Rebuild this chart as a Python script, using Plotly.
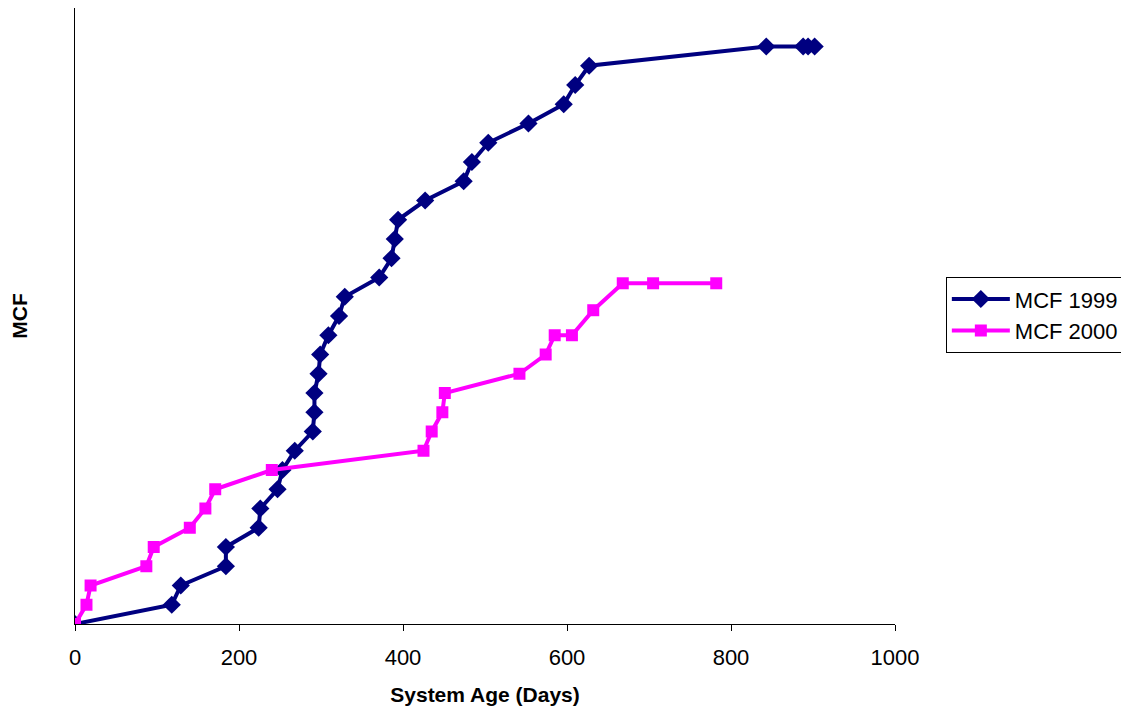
import plotly.graph_objects as go

# System age (days) and MCF values
age_1999 = [0, 118, 129, 184, 184, 224, 226, 247, 253, 268, 290, 292, 292, 297, 299,
            309, 322, 329, 371, 386, 390, 394, 427, 474, 484, 504, 553, 596, 610, 627,
            843, 888, 894, 902]
mcf_1999 = [0, 1, 2, 3, 4, 5, 6, 7, 8, 9, 10, 11, 12, 13, 14,
            15, 16, 17, 18, 19, 20, 21, 22, 23, 24, 25, 26, 27, 28, 29,
            30, 30, 30, 30]

age_2000 = [0, 14, 19, 87, 96, 140, 159, 171, 240, 425, 435, 448, 451, 542, 574,
            585, 606, 632, 668, 705, 782]
mcf_2000 = [0, 1, 2, 3, 4, 5, 6, 7, 8, 9, 10, 11, 12, 13, 14,
            15, 15, 16.3, 17.7, 17.7, 17.7]

x_ticks = [0, 200, 400, 600, 800, 1000]

FONT = "Arial, Liberation Sans, sans-serif"

fig = go.Figure()
fig.add_trace(go.Scatter(
    x=age_1999, y=mcf_1999, mode="lines+markers", name="MCF 1999",
    line=dict(color="#000080", width=4),
    marker=dict(symbol="diamond", size=14, color="#000080"),
))
fig.add_trace(go.Scatter(
    x=age_2000, y=mcf_2000, mode="lines+markers", name="MCF 2000",
    line=dict(color="#FF00FF", width=4),
    marker=dict(symbol="square", size=12, color="#FF00FF"),
))

fig.update_layout(
    width=1129, height=712,
    margin=dict(l=67, r=242, t=0, b=96),
    paper_bgcolor="white", plot_bgcolor="white",
    font=dict(family=FONT, color="black", size=21),
    showlegend=True,
    legend=dict(
        x=1.062, y=0.563, xanchor="left", yanchor="top",
        bgcolor="white", bordercolor="black", borderwidth=1,
        font=dict(family=FONT, size=22, color="black"),
        tracegroupgap=4, itemwidth=58,
    ),
)
fig.update_xaxes(
    range=[0, 1000], tickvals=x_ticks, ticktext=[str(v) for v in x_ticks],
    showgrid=False, zeroline=False,
    showline=True, linecolor="black", linewidth=1,
    ticks="outside", ticklen=6, tickcolor="black", tickwidth=1,
    ticklabelstandoff=8,
    tickfont=dict(family=FONT, size=22, color="black"),
    title=dict(text="<b>System Age (Days)</b>", font=dict(family=FONT, size=21), standoff=17),
)
fig.update_yaxes(
    range=[0, 32], showticklabels=False, ticks="",
    showgrid=False, zeroline=False,
    showline=True, linecolor="black", linewidth=1,
    title=dict(text="<b>MCF</b>", font=dict(family=FONT, size=21), standoff=42),
)

fig.write_html("out.html")
